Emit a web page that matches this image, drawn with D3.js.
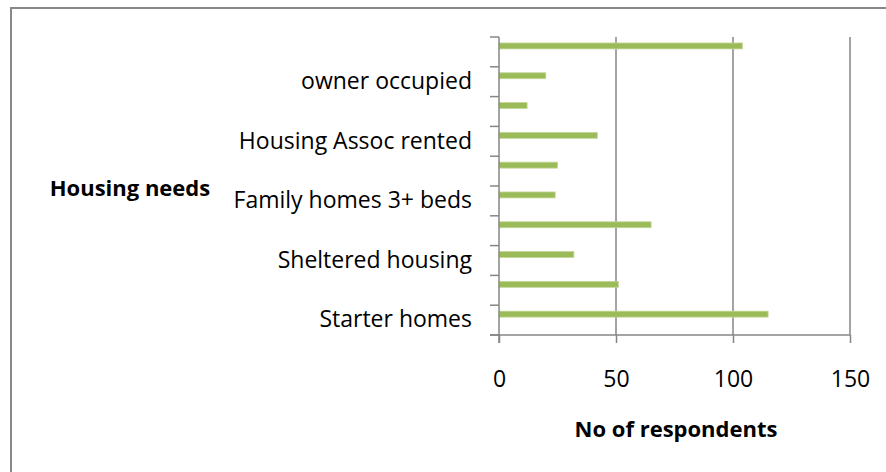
<!DOCTYPE html>
<html>
<head>
<meta charset="utf-8">
<script src="https://cdn.jsdelivr.net/npm/d3@7"></script>
<style>
    body { margin: 0; background: #fff; }
    text { font-family: "Open Sans", Lato, sans-serif; fill: #000; }
</style>
</head>
<body>
<svg id="chart"></svg>
<script>
var width = 886;
var height = 472;

// categories bottom to top (Excel order), only every other one gets a label
var categories = ["Starter homes", "Bungalows", "Sheltered housing", "Flats",
    "Family homes 3+ beds", "Self build", "Housing Assoc rented", "Private rented",
    "owner occupied", "Affordable homes"];
var respondents = [115, 51, 32, 65, 24, 25, 42, 12, 20, 104];
var xTicks = [0, 50, 100, 150];

var plotLeft = 499, plotRight = 850, plotTop = 37, plotBottom = 335;

var svg = d3.select("#chart")
    .attr("width", width)
    .attr("height", height);

// outer chart border
svg.append("rect")
    .attr("x", 11)
    .attr("y", 8)
    .attr("width", 900)
    .attr("height", 500)
    .attr("fill", "none")
    .attr("stroke", "#888")
    .attr("stroke-width", 2);

var x = d3.scaleLinear()
    .domain([0, 150])
    .range([plotLeft, plotRight]);

var y = d3.scaleBand()
    .domain(categories.slice().reverse())
    .range([plotTop, plotBottom]);

// vertical gridlines
svg.selectAll(".grid")
    .data(xTicks.slice(1))
    .enter().append("line")
    .attr("class", "grid")
    .attr("x1", function (d) { return x(d); })
    .attr("x2", function (d) { return x(d); })
    .attr("y1", plotTop)
    .attr("y2", plotBottom)
    .attr("stroke", "#868686")
    .attr("stroke-width", 1.5);

// bars
var bw = y.bandwidth();
svg.selectAll(".bar")
    .data(categories)
    .enter().append("rect")
    .attr("class", "bar")
    .attr("x", x(0))
    .attr("y", function (d) { return y(d) + bw * 0.2; })
    .attr("width", function (d, i) { return x(respondents[i]) - x(0); })
    .attr("height", bw * 0.2)
    .attr("fill", "#9bbb59")
    .attr("stroke", "#c3d69b")
    .attr("stroke-width", 0.8);

// x axis
var xAxis = svg.append("g")
    .attr("transform", "translate(0," + plotBottom + ")")
    .call(d3.axisBottom(x).tickValues(xTicks).tickSize(8).tickSizeOuter(0).tickPadding(28));
xAxis.select(".domain").remove();
xAxis.selectAll("line").attr("stroke", "#868686").attr("stroke-width", 1.5);
xAxis.append("line")
    .attr("x1", plotLeft - 9).attr("x2", plotRight)
    .attr("stroke", "#868686").attr("stroke-width", 1.5);
xAxis.selectAll("text")
    .style("font-size", "23px")
    .style("font-family", "'Open Sans', Lato, sans-serif");

// y axis, ticks between categories
var edges = categories.map(function (d) { return y(d); }).concat([plotBottom]);
svg.append("line")
    .attr("x1", plotLeft).attr("x2", plotLeft)
    .attr("y1", plotTop).attr("y2", plotBottom + 8)
    .attr("stroke", "#868686").attr("stroke-width", 1.5);
svg.selectAll(".ytick")
    .data(edges)
    .enter().append("line")
    .attr("class", "ytick")
    .attr("x1", plotLeft - 9).attr("x2", plotLeft)
    .attr("y1", function (d) { return d; })
    .attr("y2", function (d) { return d; })
    .attr("stroke", "#868686").attr("stroke-width", 1.5);

svg.selectAll(".ylabel")
    .data(categories.filter(function (d, i) { return i % 2 === 0; }))
    .enter().append("text")
    .attr("class", "ylabel")
    .attr("x", plotLeft - 27)
    .attr("y", function (d) { return y(d) + bw / 2; })
    .attr("dy", "0.32em")
    .attr("text-anchor", "end")
    .style("font-size", "23px")
    .text(function (d) { return d; });

// axis titles
svg.append("text")
    .attr("x", 676)
    .attr("y", 437)
    .attr("text-anchor", "middle")
    .style("font-size", "22px")
    .style("font-weight", "bold")
    .text("No of respondents");

svg.append("text")
    .attr("x", 130)
    .attr("y", 196)
    .attr("text-anchor", "middle")
    .style("font-size", "22px")
    .style("font-weight", "bold")
    .text("Housing needs");
</script>
</body>
</html>
